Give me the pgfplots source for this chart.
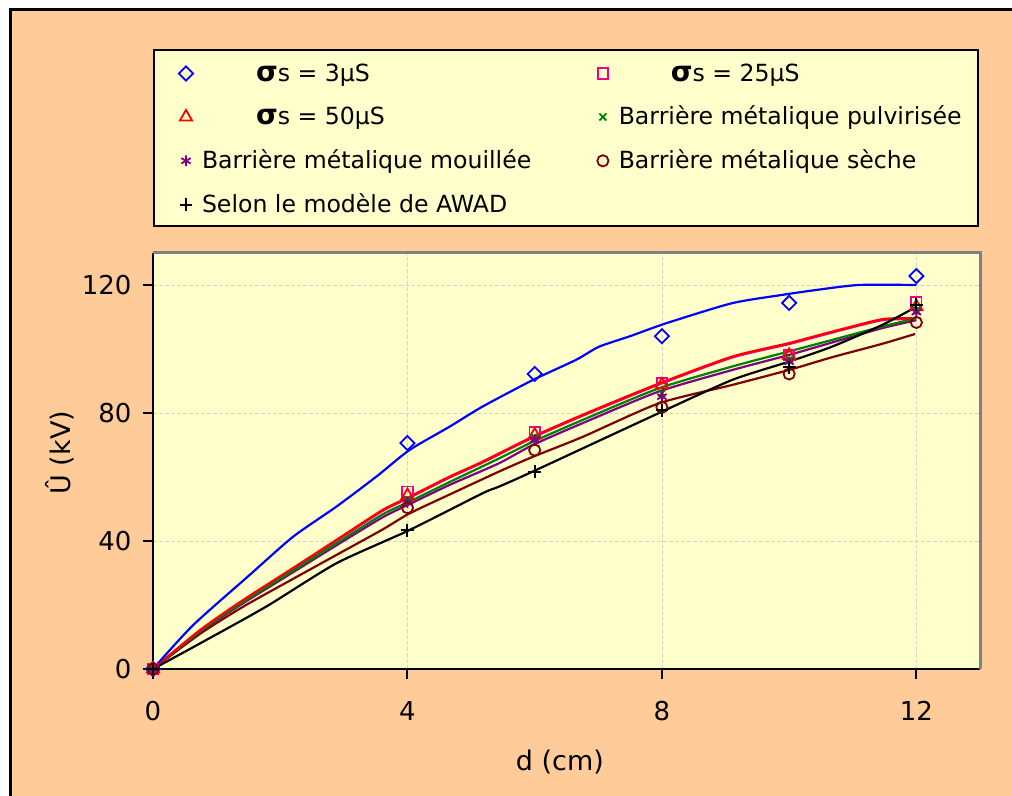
\documentclass[border=0pt]{standalone}
\usepackage{fontspec}
\setmainfont{DejaVu Sans}
\usepackage{pgfplots}
\pgfplotsset{compat=1.18}
\definecolor{peach}{HTML}{FFCC99}
\definecolor{lightyel}{HTML}{FFFFCC}
\definecolor{gridc}{RGB}{212,212,200}
\definecolor{dkred}{HTML}{800000}
\definecolor{purp}{HTML}{800080}
\definecolor{grn}{HTML}{008000}
\newcommand{\lstr}{\rule[-2pt]{0pt}{11pt}}
\pgfplotsset{mylegend/.style={legend image code/.code={\path (0pt,0pt) (8pt,0pt); \draw[##1, mark size=#1] plot[only marks] coordinates {(4pt,0pt)};}}}
\begin{document}
\begin{tikzpicture}
\path[use as bounding box] (0,0) rectangle (506pt,398pt);
\fill[peach] (5pt,0) rectangle (506pt,393pt);
\draw[black, line width=1.5pt] (5pt,0) -- (5pt,393pt) -- (506pt,393pt);
\draw[black, line width=1pt, fill=lightyel] (77pt,285pt) rectangle (489pt,373pt);
\begin{axis}[
  at={(76.5pt,63.5pt)}, anchor=south west,
  width=413.5pt, height=208pt, scale only axis,
  xmin=0, xmax=13, ymin=0, ymax=130,
  xtick={0,4,8,12}, ytick={0,40,80,120},
  axis background/.style={fill=lightyel},
  axis x line=bottom, axis y line=left,
  axis line style={-, black, line width=1pt},
  grid=major,
  major grid style={gridc, line width=0.4pt, dash pattern=on 2pt off 1pt},
  tick align=outside,
  major tick length=5pt,
  tick style={black, line width=1pt},
  ticklabel style={font=\fontsize{13}{15}\selectfont},
  xticklabel style={yshift=-7.5pt},
  yticklabel style={xshift=-2.2pt},
  /pgf/number format/assume math mode=true,
  xlabel={d (cm)}, ylabel={Û (kV)},
  label style={font=\fontsize{13.5}{16}\selectfont},
  xlabel style={at={(axis description cs:0.492,-0.2236)}, anchor=center},
  ylabel style={at={(axis description cs:-0.1124,0.52)}, anchor=center},
  clip=false,
  legend columns=2,
  legend cell align=left,
  legend style={draw=none, fill=none,
    at={(axis description cs:0.02902,1.4567)}, anchor=north west,
    inner sep=0pt, outer sep=0pt,
    nodes={inner sep=0pt, font=\fontsize{11.8}{14}\selectfont},
    /tikz/every odd column/.style={column sep=3.5pt},
    /tikz/every even column/.style={column sep=6pt},
    row sep=11pt},
]
\draw[gray, line width=1.5pt] (rel axis cs:0,1) -- (rel axis cs:1,1) -- (rel axis cs:1,0);

% trend curves
\addplot[magenta, line width=1.1pt, forget plot, smooth, tension=0.4] coordinates {
(0,0) (0.74,11.9) (1.42,21.3) (2.15,30.6) (2.88,40.0) (3.61,49.4) (4.03,53.5) (4.66,59.8) (5.18,64.5) (5.97,72.3) (6.75,79.1) (7.9,88.5) (9.10,97.3) (9.99,101.5) (10.67,105.1) (11.46,109.0) (11.93,109.3)};
\addplot[dkred, line width=1.1pt, forget plot, smooth, tension=0.4] coordinates {
(0,0) (0.74,11.0) (1.42,19.5) (2.15,27.6) (2.88,35.6) (3.61,43.6) (4.03,48.6) (4.66,54.5) (5.44,61.7) (5.97,66.3) (6.75,72.5) (7.95,83.0) (9.10,88.75) (9.99,93.4) (10.67,97.4) (11.46,101.6) (11.98,104.7)};
\addplot[purp, line width=1.1pt, forget plot, smooth, tension=0.4] coordinates {
(0,0) (0.74,11.6) (1.42,20.6) (2.15,29.6) (2.88,38.6) (3.61,47.4) (4.03,51.5) (4.66,57.5) (5.44,64.3) (5.97,70.0) (6.75,76.8) (7.95,86.7) (9.10,93.4) (9.99,98.1) (10.67,102.0) (11.46,106.5) (12,109.0)};
\addplot[grn, line width=1.1pt, forget plot, smooth, tension=0.4] coordinates {
(0,0) (0.74,11.8) (1.42,21.0) (2.15,30.1) (2.88,39.2) (3.61,48.3) (4.03,52.3) (4.66,58.4) (5.44,65.8) (5.97,71.0) (6.75,77.8) (7.95,87.7) (9.10,94.5) (9.99,99.2) (10.67,102.8) (11.46,107.0) (12,109.6)};
\addplot[red, line width=1.1pt, forget plot, smooth, tension=0.4] coordinates {
(0,0) (0.74,12.2) (1.42,21.6) (2.15,30.9) (2.88,40.3) (3.61,49.7) (4.03,53.8) (4.66,60.1) (5.18,64.8) (5.97,72.6) (6.75,79.4) (7.9,88.8) (9.10,97.6) (9.99,101.8) (10.67,105.4) (11.46,109.3) (11.93,109.6)};
\addplot[blue, line width=1.1pt, forget plot, smooth, tension=0.4] coordinates {
(0,0) (0.63,13.7) (1.52,29.4) (2.2,41.3) (2.88,50.7) (3.51,60.1) (4.03,68.4) (4.66,75.7) (5.18,82.0) (5.97,90.3) (6.65,96.6) (7.01,100.7) (7.5,104.0) (8.06,108.0) (9.10,114.3) (9.89,116.9) (10.41,118.4) (11.09,120) (12,120)};
\addplot[black, line width=1.1pt, forget plot, smooth, tension=0.4] coordinates {
(0,0) (0.74,8.0) (1.78,19.5) (2.88,33.0) (4.03,43.4) (5.18,54.9) (5.44,57.0) (5.97,61.7) (7.9,79.5) (9.10,90.3) (9.99,96.0) (10.67,100.7) (11.46,107.5) (12,113.2)};

% measured points
\addplot[only marks, mylegend=2.5pt, blue, line width=0.9pt, mark=square, mark size=2.5pt, mark options={rotate=45}] coordinates {
(0,0) (4,70.6) (6,92.2) (8,104.0) (10,114.4) (12,122.8)};
\addlegendentry{\makebox[190pt][l]{\lstr\hspace{27pt}{\fontsize{14}{14}\selectfont\bfseries σ}s = 3µS}}
\addplot[only marks, mylegend=2.6pt, magenta, line width=0.9pt, mark=square, mark size=2.6pt] coordinates {
(0,0) (4,55.4) (6,74.0) (8,89.3) (10,98.1) (12,114.5)};
\addlegendentry{\makebox[170pt][l]{\lstr\hspace{26pt}{\fontsize{14}{14}\selectfont\bfseries σ}s = 25µS}}
\addplot[only marks, mylegend=3.5pt, red, line width=0.9pt, mark=triangle, mark size=3.5pt] coordinates {
(0,0) (4,54.2) (6,73.1) (8,88.8) (10,98.0) (12,113.2)};
\addlegendentry{\makebox[190pt][l]{\lstr\hspace{27pt}{\fontsize{14}{14}\selectfont\bfseries σ}s = 50µS}}
\addplot[only marks, mylegend=2.5pt, grn, line width=0.9pt, mark=x, mark size=2.5pt] coordinates {
(0,0) (4,52.8) (6,72.4) (8,86.2) (10,96.6) (12,112.0)};
\addlegendentry{\makebox[170pt][l]{\lstr Barrière métalique pulvirisée}}
\addplot[only marks, mylegend=2.7pt, purp, line width=0.9pt, mark=asterisk, mark size=2.7pt] coordinates {
(0,0) (4,52.0) (6,71.6) (8,85.1) (10,96.0) (12,111.5)};
\addlegendentry{\makebox[190pt][l]{\lstr Barrière métalique mouillée}}
\addplot[only marks, mylegend=2.8pt, dkred, line width=0.9pt, mark=o, mark size=2.8pt, mark options={fill=white}] coordinates {
(0,0) (4,50.4) (6,68.4) (8,81.8) (10,92.2) (12,108.3)};
\addlegendentry{\makebox[170pt][l]{\lstr Barrière métalique sèche}}
\addplot[only marks, mylegend=3.2pt, black, line width=1pt, mark=+, mark size=3.2pt] coordinates {
(0,0) (4,43.4) (6,61.7) (8,80.9) (10,94.3) (12,113.8)};
\addlegendentry{\makebox[190pt][l]{\lstr Selon le modèle de AWAD}}
\end{axis}
\end{tikzpicture}
\end{document}
